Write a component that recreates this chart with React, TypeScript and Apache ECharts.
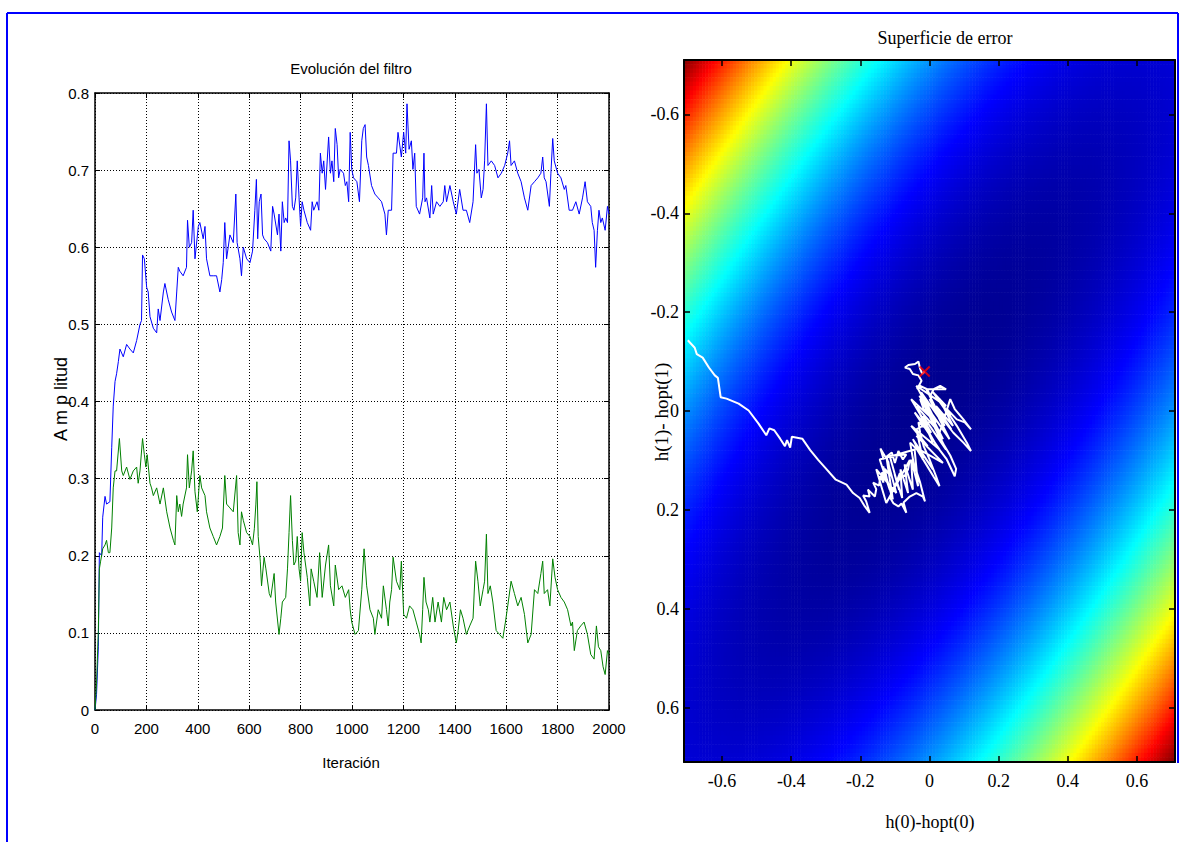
import React, { useEffect, useRef } from "react";
import * as echarts from "echarts";

// ---------- Left panel: filter coefficients vs iteration ----------
const ITER_BLUE = [0,6,13,17,26,30,39,45,58,65,71,78,84,91,97,110,123,136,149,162,175,181,185,192,201,207,214,227,240,246,253,266,272,285,298,311,318,324,330,343,356,360,367,376,382,389,402,408,421,428,434,447,460,473,486,493,499,505,512,525,538,548,553,564,570,577,590,603,613,622,628,633,639,646,652,658,671,684,691,697,710,716,723,729,736,742,749,755,761,768,774,781,787,794,800,806,813,826,839,845,851,864,871,877,884,890,897,909,916,922,929,935,942,948,954,967,974,980,987,993,999,1006,1019,1029,1038,1044,1051,1057,1064,1076,1089,1102,1115,1128,1134,1141,1154,1160,1173,1179,1192,1201,1209,1214,1222,1231,1237,1244,1250,1263,1275,1280,1284,1290,1303,1310,1316,1329,1342,1355,1361,1368,1381,1394,1406,1419,1432,1445,1458,1471,1481,1486,1494,1503,1510,1516,1523,1529,1542,1555,1568,1581,1594,1606,1613,1619,1632,1645,1658,1671,1684,1697,1710,1723,1735,1742,1748,1755,1768,1774,1781,1787,1800,1813,1826,1832,1845,1858,1871,1884,1897,1907,1916,1929,1935,1942,1948,1955,1961,1968,1974,1985,1994,2000];
const AMP_BLUE = [0,0.02,0.082,0.204,0.2,0.25,0.277,0.267,0.27,0.34,0.394,0.426,0.436,0.452,0.468,0.458,0.474,0.468,0.463,0.479,0.5,0.505,0.59,0.585,0.548,0.542,0.51,0.495,0.489,0.52,0.505,0.542,0.553,0.532,0.516,0.505,0.542,0.574,0.569,0.563,0.574,0.635,0.6,0.606,0.648,0.585,0.627,0.632,0.611,0.627,0.585,0.563,0.563,0.563,0.542,0.558,0.58,0.632,0.585,0.616,0.606,0.669,0.606,0.585,0.563,0.6,0.585,0.58,0.595,0.648,0.688,0.611,0.659,0.669,0.616,0.611,0.606,0.595,0.653,0.643,0.616,0.643,0.595,0.659,0.632,0.638,0.632,0.738,0.712,0.653,0.648,0.664,0.712,0.664,0.627,0.659,0.648,0.632,0.622,0.659,0.648,0.659,0.648,0.722,0.696,0.712,0.675,0.743,0.696,0.712,0.685,0.754,0.733,0.69,0.701,0.696,0.68,0.685,0.659,0.749,0.701,0.69,0.685,0.659,0.738,0.754,0.759,0.717,0.706,0.68,0.669,0.664,0.659,0.643,0.616,0.648,0.648,0.722,0.722,0.749,0.717,0.749,0.722,0.786,0.727,0.738,0.701,0.722,0.653,0.643,0.664,0.722,0.659,0.664,0.638,0.68,0.643,0.659,0.653,0.659,0.68,0.659,0.68,0.659,0.643,0.675,0.648,0.648,0.632,0.659,0.733,0.696,0.701,0.664,0.675,0.712,0.786,0.706,0.712,0.706,0.69,0.696,0.706,0.722,0.738,0.706,0.712,0.696,0.685,0.664,0.648,0.68,0.685,0.69,0.696,0.717,0.69,0.685,0.653,0.696,0.741,0.712,0.696,0.69,0.675,0.68,0.648,0.648,0.659,0.643,0.664,0.685,0.659,0.653,0.632,0.622,0.574,0.622,0.648,0.632,0.638,0.622,0.653,0.643];

const ITER_GREEN = [0,6,13,17,22,30,39,45,52,58,65,71,78,84,95,104,110,123,136,149,162,168,175,185,192,198,203,214,220,227,240,253,266,279,292,305,311,318,324,330,337,343,356,360,367,376,382,389,398,408,415,428,434,447,460,473,486,496,505,512,525,538,551,557,564,570,577,590,603,613,620,626,630,635,643,648,658,665,678,684,697,703,716,723,729,742,749,755,761,768,774,781,787,794,800,806,813,826,836,841,851,864,874,884,897,909,916,929,935,948,961,974,987,993,999,1012,1025,1038,1047,1057,1070,1083,1089,1102,1115,1122,1134,1141,1147,1154,1160,1173,1186,1192,1201,1212,1224,1237,1250,1263,1269,1275,1280,1288,1297,1303,1314,1323,1335,1348,1357,1368,1381,1394,1406,1413,1422,1432,1445,1458,1471,1481,1490,1499,1510,1516,1523,1529,1538,1548,1561,1574,1587,1597,1606,1619,1632,1645,1658,1671,1684,1697,1710,1723,1735,1742,1748,1761,1770,1781,1790,1800,1813,1826,1839,1852,1858,1865,1877,1890,1903,1916,1929,1942,1951,1959,1968,1977,1985,1994,2000];
const AMP_GREEN = [0,0.034,0.103,0.183,0.193,0.209,0.214,0.22,0.204,0.204,0.236,0.288,0.31,0.31,0.352,0.31,0.304,0.315,0.299,0.31,0.315,0.294,0.31,0.352,0.331,0.315,0.331,0.294,0.288,0.278,0.288,0.267,0.288,0.257,0.236,0.22,0.214,0.278,0.257,0.267,0.251,0.267,0.288,0.331,0.288,0.31,0.336,0.283,0.257,0.304,0.288,0.278,0.257,0.236,0.225,0.214,0.225,0.236,0.304,0.267,0.262,0.257,0.304,0.23,0.214,0.257,0.246,0.23,0.225,0.214,0.235,0.267,0.296,0.225,0.193,0.161,0.198,0.183,0.151,0.146,0.177,0.14,0.098,0.119,0.14,0.146,0.183,0.23,0.278,0.22,0.188,0.193,0.225,0.183,0.167,0.23,0.204,0.172,0.135,0.183,0.167,0.146,0.204,0.146,0.188,0.214,0.161,0.135,0.188,0.156,0.161,0.146,0.156,0.13,0.114,0.098,0.103,0.156,0.209,0.161,0.13,0.119,0.098,0.13,0.119,0.161,0.13,0.109,0.14,0.156,0.198,0.167,0.156,0.193,0.124,0.119,0.135,0.13,0.114,0.098,0.087,0.13,0.172,0.14,0.13,0.114,0.146,0.114,0.14,0.114,0.146,0.13,0.14,0.109,0.087,0.103,0.13,0.119,0.098,0.109,0.119,0.193,0.167,0.135,0.156,0.167,0.228,0.151,0.161,0.14,0.103,0.098,0.093,0.114,0.135,0.167,0.151,0.135,0.146,0.124,0.087,0.098,0.156,0.151,0.177,0.193,0.151,0.156,0.135,0.196,0.172,0.156,0.146,0.14,0.13,0.109,0.114,0.077,0.103,0.109,0.114,0.098,0.072,0.066,0.109,0.082,0.077,0.056,0.046,0.077,0.072];

const ITER_MIN = 0;
const ITER_MAX = 2000;
const ITER_STEP = 200;
const AMP_MIN = 0;
const AMP_MAX = 0.8;
const AMP_STEP = 0.1;

// ---------- Right panel: error surface and trajectory ----------
const TRAJ_X = [-0.699,-0.679,-0.673,-0.656,-0.638,-0.621,-0.612,-0.604,-0.587,-0.552,-0.523,-0.495,-0.472,-0.463,-0.449,-0.432,-0.418,-0.412,-0.403,-0.398,-0.368,-0.345,-0.322,-0.3,-0.271,-0.24,-0.221,-0.202,-0.187,-0.173,-0.183,-0.192,-0.173,-0.178,-0.158,-0.154,-0.163,-0.146,-0.142,-0.133,-0.138,-0.123,-0.129,-0.113,-0.119,-0.142,-0.133,-0.109,-0.1,-0.09,-0.077,-0.067,
  -0.115,-0.088,-0.101,-0.079,-0.084,-0.062,-0.072,-0.048,-0.053,-0.033,-0.043,
  -0.144,-0.115,-0.134,-0.106,-0.125,-0.096,-0.154,-0.125,
  -0.057,-0.062,-0.072,-0.086,-0.096,-0.106,-0.115,-0.104,-0.09,-0.081,-0.067,-0.075,-0.057,-0.038,-0.019,-0.013,-0.027,-0.046,-0.056,-0.036,-0.007,0.012,0.029,0.019,0,-0.017,-0.027,-0.032,-0.007,0.021,0.05,0.073,0.077,0.06,0.031,0.012,0,-0.017,-0.027,-0.007,0.031,0.069,0.098,0.12,0.108,0.079,0.06,0.05,0.079,0.102,0.12,0.098,0.073,0.06,
  0.029,-0.038,0.01,-0.019,0.048,-0.029,0.039,-0.009,0.058,0,0.063,0.019,0.068,0.029,0.058,0.01,0.048,
  -0.038,0.019,-0.053,0.005,-0.043,0.029,-0.053,-0.005,-0.038,0.039,-0.029,0.01,-0.048,-0.019,-0.038,0.015,-0.024,0.044,-0.009,
  0.048,0.031,0.012,0.002,-0.007,-0.027,-0.036,-0.023,-0.032,-0.048,-0.057,-0.071,-0.061,-0.042,-0.032,-0.027,-0.021,-0.014];
const TRAJ_Y = [-0.143,-0.128,-0.115,-0.108,-0.088,-0.072,-0.067,-0.028,-0.025,-0.015,-0.001,0.025,0.049,0.035,0.039,0.056,0.071,0.059,0.074,0.052,0.056,0.079,0.099,0.116,0.139,0.149,0.166,0.176,0.193,0.206,0.183,0.171,0.173,0.159,0.173,0.158,0.145,0.151,0.132,0.145,0.124,0.139,0.117,0.132,0.103,0.076,0.097,0.084,0.105,0.081,0.098,0.088,
  0.091,0.159,0.128,0.176,0.118,0.166,0.108,0.159,0.098,0.152,0.078,
  0.098,0.159,0.112,0.179,0.091,0.166,0.118,0.186,
  0.099,0.118,0.132,0.126,0.145,0.159,0.174,0.187,0.193,0.187,0.206,0.185,0.173,0.166,0.173,0.183,0.145,0.105,0.064,0.078,0.111,0.133,0.152,0.132,0.098,0.071,0.044,0.023,0.037,0.071,0.098,0.132,0.117,0.09,0.056,0.029,0.01,-0.004,-0.024,-0.017,0.01,0.044,0.064,0.081,0.064,0.03,0.01,-0.004,0.017,0.023,0.037,0.017,-0.004,-0.024,
  0.044,-0.01,0.064,0.01,0.078,-0.031,0.057,-0.01,0.057,-0.024,0.037,-0.01,0.03,-0.024,0.01,-0.038,-0.01,
  -0.051,0.023,-0.024,0.044,0.003,0.078,0.03,0.071,0.05,0.105,0.078,0.118,0.057,0.098,0.037,0.017,-0.038,0.03,-0.044,
  -0.044,-0.051,-0.044,-0.031,-0.044,-0.051,-0.044,-0.061,-0.072,-0.075,-0.085,-0.088,-0.093,-0.095,-0.1,-0.085,-0.075,-0.08];
const FINAL_X = [-0.014];
const FINAL_Y = [-0.08];

// autocorrelation (quadratic form) of the error surface
const SURF_R0 = 1.0;
const SURF_R1 = 0.85;
const SURF_LIMIT = 0.71;
const SURF_TICKS = [-0.6, -0.4, -0.2, 0, 0.2, 0.4, 0.6];
const SURF_CELLS = 160;
const JET = ["#00008f", "#0000ff", "#0080ff", "#00ffff", "#80ff80", "#ffff00", "#ff8000", "#ff0000", "#800000"];

const SANS = "'Liberation Sans', Arial, sans-serif";
const SERIF = "'Liberation Serif', 'Times New Roman', serif";

function buildOption() {
  const blue = ITER_BLUE.map((x, i) => [x, AMP_BLUE[i]]);
  const green = ITER_GREEN.map((x, i) => [x, AMP_GREEN[i]]);
  const traj = TRAJ_X.map((x, i) => [x, TRAJ_Y[i]]);
  const final = FINAL_X.map((x, i) => [x, FINAL_Y[i]]);

  const L = SURF_LIMIT;
  const step = (2 * L) / SURF_CELLS;
  const centers: number[] = [];
  for (let i = 0; i < SURF_CELLS; i++) centers.push(-L + (i + 0.5) * step);
  const jMax = 2 * L * L * (SURF_R0 + SURF_R1);
  const surface: number[][] = [];
  for (let i = 0; i < SURF_CELLS; i++) {
    for (let j = 0; j < SURF_CELLS; j++) {
      const x = centers[i];
      const y = centers[j];
      const J = SURF_R0 * (x * x + y * y) + 2 * SURF_R1 * x * y;
      surface.push([x, y, J / jMax]);
    }
  }
  const half = step / 2;

  const boxLine = { show: true, onZero: false, lineStyle: { color: "#000", width: 1.5 } };
  const leftLabel = { color: "#000", fontFamily: SANS, fontSize: 15 };
  const rightLabel = { color: "#000", fontFamily: SERIF, fontSize: 18 };
  const dotted = { show: true, lineStyle: { color: "#000", width: 1, type: [1, 2] } };
  const plain = (v: number) => String(Math.round(v * 1000) / 1000);

  return {
    animation: false,
    backgroundColor: "#ffffff",
    grid: [
      { left: 95, top: 93, width: 514, height: 617 },
      { left: 684, top: 60, width: 491, height: 702 },
    ],
    xAxis: [
      {
        gridIndex: 0, type: "value", position: "bottom", min: ITER_MIN, max: ITER_MAX, interval: ITER_STEP,
        axisLine: boxLine, axisTick: { inside: true, length: 5, lineStyle: { color: "#000" } },
        axisLabel: { ...leftLabel, margin: 11, formatter: plain }, splitLine: dotted,
      },
      {
        gridIndex: 0, type: "value", position: "top", min: ITER_MIN, max: ITER_MAX, interval: ITER_STEP,
        axisLine: boxLine, axisTick: { inside: true, length: 5, lineStyle: { color: "#000" } },
        axisLabel: { show: false }, splitLine: { show: false },
      },
      {
        gridIndex: 1, type: "value", position: "bottom", min: -L, max: L, z: 10,
        axisLine: { ...boxLine, lineStyle: { color: "#000", width: 2 } },
        axisTick: { inside: true, length: 6, customValues: SURF_TICKS, lineStyle: { color: "#000", width: 1.5 } },
        axisLabel: { ...rightLabel, margin: 10, customValues: SURF_TICKS, formatter: plain }, splitLine: { show: false },
      },
      {
        gridIndex: 1, type: "value", position: "top", min: -L, max: L, z: 10,
        axisLine: { ...boxLine, lineStyle: { color: "#000", width: 2 } },
        axisTick: { inside: true, length: 6, customValues: SURF_TICKS, lineStyle: { color: "#000", width: 1.5 } },
        axisLabel: { show: false }, splitLine: { show: false },
      },
    ],
    yAxis: [
      {
        gridIndex: 0, type: "value", position: "left", min: AMP_MIN, max: AMP_MAX, interval: AMP_STEP,
        axisLine: boxLine, axisTick: { inside: true, length: 5, lineStyle: { color: "#000" } },
        axisLabel: { ...leftLabel, margin: 6, formatter: plain }, splitLine: dotted,
      },
      {
        gridIndex: 0, type: "value", position: "right", min: AMP_MIN, max: AMP_MAX, interval: AMP_STEP,
        axisLine: boxLine, axisTick: { inside: true, length: 5, lineStyle: { color: "#000" } },
        axisLabel: { show: false }, splitLine: { show: false },
      },
      {
        gridIndex: 1, type: "value", position: "left", inverse: true, min: -L, max: L, z: 10,
        axisLine: { ...boxLine, lineStyle: { color: "#000", width: 2 } },
        axisTick: { inside: true, length: 6, customValues: SURF_TICKS, lineStyle: { color: "#000", width: 1.5 } },
        axisLabel: { ...rightLabel, margin: 5, customValues: SURF_TICKS, formatter: plain }, splitLine: { show: false },
      },
      {
        gridIndex: 1, type: "value", position: "right", inverse: true, min: -L, max: L, z: 10,
        axisLine: { ...boxLine, lineStyle: { color: "#000", width: 2 } },
        axisTick: { inside: true, length: 6, customValues: SURF_TICKS, lineStyle: { color: "#000", width: 1.5 } },
        axisLabel: { show: false }, splitLine: { show: false },
      },
    ],
    visualMap: {
      type: "continuous", show: false, min: 0, max: 1, dimension: 2, seriesIndex: 2,
      inRange: { color: JET },
    },
    series: [
      {
        type: "line", xAxisIndex: 0, yAxisIndex: 0, data: blue, showSymbol: false, symbol: "none",
        lineStyle: { color: "#0000ff", width: 1 }, z: 3,
      },
      {
        type: "line", xAxisIndex: 0, yAxisIndex: 0, data: green, showSymbol: false, symbol: "none",
        lineStyle: { color: "#008000", width: 1 }, z: 3,
      },
      {
        type: "custom", xAxisIndex: 2, yAxisIndex: 2, data: surface, clip: true, z: 1, silent: true,
        progressive: 0,
        renderItem: (_p: any, api: any) => {
          const x = api.value(0);
          const y = api.value(1);
          const a = api.coord([x - half, y - half]);
          const b = api.coord([x + half, y + half]);
          return {
            type: "rect",
            shape: {
              x: Math.min(a[0], b[0]) - 0.3,
              y: Math.min(a[1], b[1]) - 0.3,
              width: Math.abs(b[0] - a[0]) + 0.6,
              height: Math.abs(b[1] - a[1]) + 0.6,
            },
            style: { fill: api.visual("color") },
          };
        },
      },
      {
        type: "line", xAxisIndex: 2, yAxisIndex: 2, data: traj, showSymbol: false, symbol: "none",
        lineStyle: { color: "#ffffff", width: 2 }, z: 4, clip: true,
      },
      {
        type: "scatter", xAxisIndex: 2, yAxisIndex: 2, data: final, z: 5,
        symbol: "path://M0 0L10 10M10 0L0 10", symbolSize: 10,
        itemStyle: { color: "rgba(0,0,0,0)", borderColor: "#ff0000", borderWidth: 2 },
      },
    ],
    graphic: [
      { type: "line", shape: { x1: 7, y1: 13, x2: 1178, y2: 13 }, style: { stroke: "#0000ff", lineWidth: 2 }, z: 20 },
      { type: "line", shape: { x1: 7, y1: 13, x2: 7, y2: 842 }, style: { stroke: "#0000ff", lineWidth: 2 }, z: 20 },
      { type: "line", shape: { x1: 1178, y1: 13, x2: 1178, y2: 763 }, style: { stroke: "#0000ff", lineWidth: 2 }, z: 20 },
      { type: "text", x: 351, y: 68, style: { text: "Evolución del filtro", font: `15px ${SANS}`, fill: "#000", textAlign: "center", textVerticalAlign: "middle" } },
      { type: "text", x: 351, y: 762, style: { text: "Iteración", font: `15px ${SANS}`, fill: "#000", textAlign: "center", textVerticalAlign: "middle" } },
      { type: "text", x: 61, y: 399, rotation: Math.PI / 2, style: { text: "A m p litud", font: `18px ${SANS}`, fill: "#000", textAlign: "center", textVerticalAlign: "middle" } },
      { type: "text", x: 945, y: 38, style: { text: "Superficie de error", font: `18px ${SERIF}`, fill: "#000", textAlign: "center", textVerticalAlign: "middle" } },
      { type: "text", x: 930, y: 822, style: { text: "h(0)-hopt(0)", font: `18px ${SERIF}`, fill: "#000", textAlign: "center", textVerticalAlign: "middle" } },
      { type: "text", x: 661, y: 412, rotation: Math.PI / 2, style: { text: "h(1)- hopt(1)", font: `19px ${SERIF}`, fill: "#000", textAlign: "center", textVerticalAlign: "middle" } },
    ],
  };
}

export default function App() {
  const ref = useRef<HTMLDivElement>(null);
  useEffect(() => {
    if (!ref.current) return;
    const chart = echarts.init(ref.current, null, { renderer: "svg" });
    chart.setOption(buildOption() as any);
    return () => chart.dispose();
  }, []);
  return (
    <div
      ref={ref}
      style={{ position: "absolute", left: 0, top: 0, width: 1185, height: 842, background: "#fff" }}
    />
  );
}
